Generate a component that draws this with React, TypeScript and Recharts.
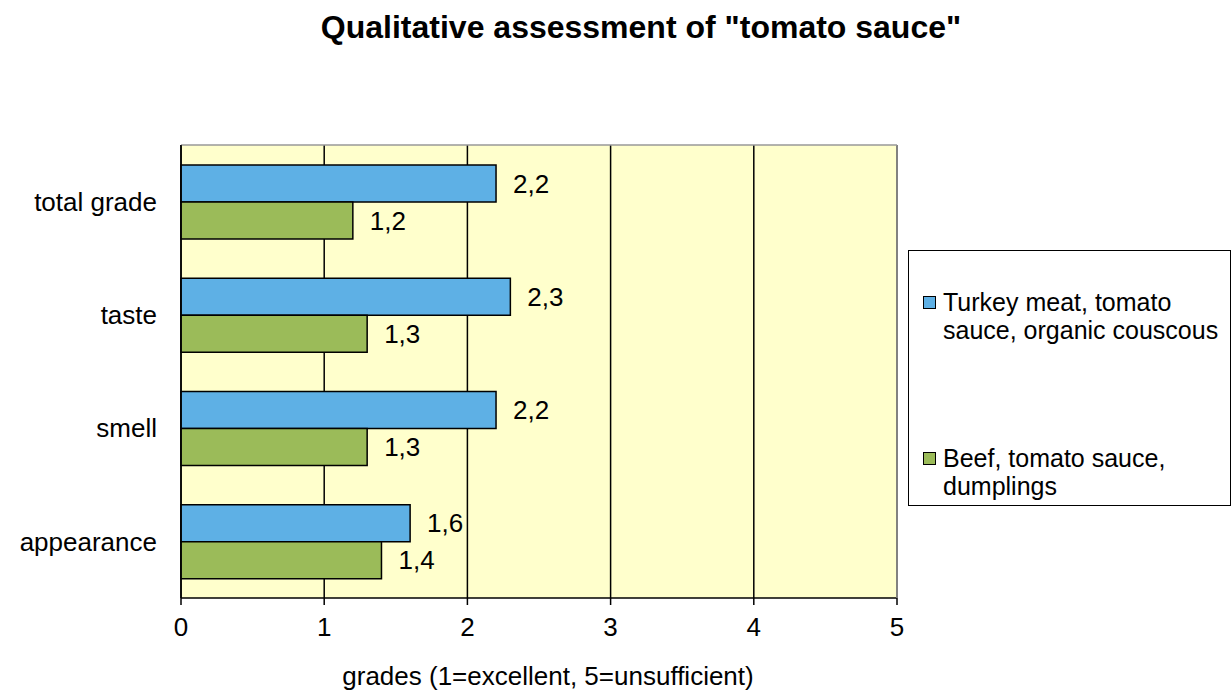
import {
  BarChart,
  Bar,
  XAxis,
  YAxis,
  CartesianGrid,
  Legend,
  LabelList,
} from 'recharts';

const categories = ['total grade', 'taste', 'smell', 'appearance'];
const turkey = [2.2, 2.3, 2.2, 1.6];
const beef = [1.2, 1.3, 1.3, 1.4];
const xTicks = [0, 1, 2, 3, 4, 5];
const bandEdges = [0, 1, 2, 3, 4];

const seriesNames = {
  turkey: 'Turkey meat, tomato sauce, organic couscous',
  beef: 'Beef, tomato sauce, dumplings',
};

const data = categories.map((name, i) => ({
  name,
  turkey: turkey[i],
  beef: beef[i],
}));

const font = 'Arial, "Liberation Sans", sans-serif';
const fmt = (v: any) => String(v).replace('.', ',');

function LegendBox() {
  const item = (color: string, lines: string[]) => (
    <div style={{ display: 'flex', alignItems: 'flex-start' }}>
      <div
        style={{
          width: 11,
          height: 11,
          background: color,
          border: '1.5px solid #000',
          marginTop: 8,
          marginRight: 7,
          flexShrink: 0,
        }}
      />
      <div style={{ lineHeight: '28px' }}>
        {lines.map((l) => (
          <div key={l}>{l}</div>
        ))}
      </div>
    </div>
  );
  return (
    <div
      style={{
        width: 323,
        height: 256,
        boxSizing: 'border-box',
        border: '1.5px solid #000',
        background: '#fff',
        fontFamily: font,
        fontSize: 25,
        color: '#000',
        padding: '37px 0 0 14px',
      }}
    >
      {item('#5eb0e5', ['Turkey meat, tomato', 'sauce, organic couscous'])}
      <div style={{ height: 100 }} />
      {item('#9bbb59', ['Beef, tomato sauce,', 'dumplings'])}
    </div>
  );
}

export default function App() {
  return (
    <div style={{ position: 'absolute', left: 0, top: 0, width: 1232, height: 691, background: '#fff' }}>
      <div
        style={{
          position: 'absolute',
          top: 9,
          left: 0,
          width: 1282,
          textAlign: 'center',
          fontFamily: font,
          fontWeight: 'bold',
          fontSize: 32,
        }}
      >
        Qualitative assessment of "tomato sauce"
      </div>
      <BarChart
        width={1232}
        height={691}
        data={data}
        layout="vertical"
        margin={{ top: 144, right: 11, bottom: 0, left: 0 }}
        barGap={0}
        barSize={37}
      >
        <CartesianGrid
          horizontal={false}
          stroke="#000"
          strokeWidth={1.5}
          fill="#ffffcc"
          fillOpacity={1}
          yAxisId="cat"
        />
        <XAxis
          type="number"
          domain={[0, 5]}
          ticks={xTicks}
          stroke="#000"
          strokeWidth={1.5}
          tickSize={7}
          tickMargin={13}
          height={93}
          tick={{ fill: '#000', fontSize: 26, fontFamily: font }}
          label={{
            value: 'grades (1=excellent, 5=unsufficient)',
            position: 'insideBottom',
            offset: 6,
            dx: 9,
            fill: '#000',
            fontSize: 26,
            fontFamily: font,
          }}
        />
        <XAxis
          xAxisId="top"
          orientation="top"
          type="number"
          domain={[0, 5]}
          height={1}
          tick={false}
          tickLine={false}
          stroke="#999"
          strokeWidth={1.5}
        />
        <YAxis
          yAxisId="aEdge"
          type="number"
          domain={[0, 4]}
          ticks={bandEdges}
          width={1}
          tick={false}
          tickSize={9}
          stroke="#000"
          strokeWidth={1.5}
        />
        <YAxis
          yAxisId="cat"
          type="category"
          dataKey="name"
          width={180}
          axisLine={false}
          tickLine={false}
          tickMargin={17}
          tick={{ fill: '#000', fontSize: 26, fontFamily: font }}
        />
        <YAxis
          yAxisId="right"
          orientation="right"
          type="number"
          width={1}
          tick={false}
          tickLine={false}
          stroke="#999"
          strokeWidth={1.5}
        />
        <Bar
          yAxisId="cat"
          dataKey="turkey"
          name={seriesNames.turkey}
          fill="#5eb0e5"
          stroke="#000"
          strokeWidth={1.5}
          isAnimationActive={false}
        >
          <LabelList
            dataKey="turkey"
            position="right"
            offset={17}
            formatter={fmt}
            style={{ fill: '#000', fontSize: 26, fontFamily: font }}
          />
        </Bar>
        <Bar
          yAxisId="cat"
          dataKey="beef"
          name={seriesNames.beef}
          fill="#9bbb59"
          stroke="#000"
          strokeWidth={1.5}
          isAnimationActive={false}
        >
          <LabelList
            dataKey="beef"
            position="right"
            offset={17}
            formatter={fmt}
            style={{ fill: '#000', fontSize: 26, fontFamily: font }}
          />
        </Bar>
        <Legend
          layout="vertical"
          align="right"
          verticalAlign="middle"
          wrapperStyle={{ left: 908, top: 250 }}
          content={() => <LegendBox />}
        />
      </BarChart>
    </div>
  );
}
